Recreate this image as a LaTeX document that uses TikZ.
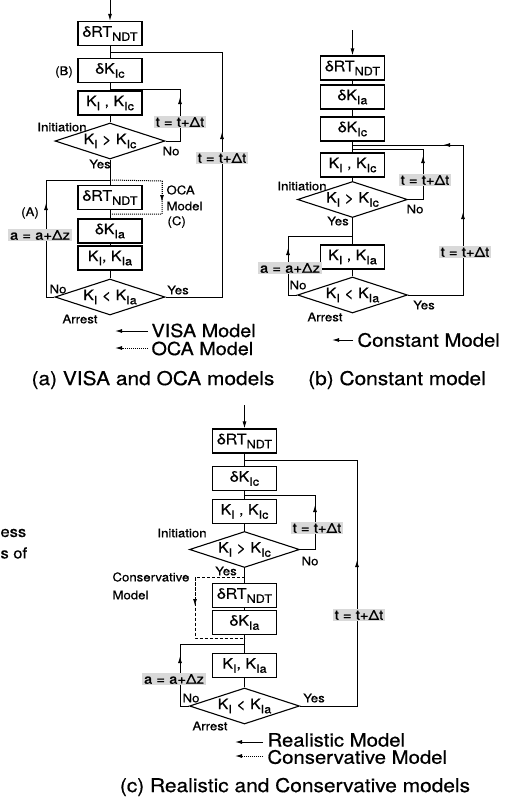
\documentclass[tikz,border=0pt]{standalone}
\usepackage{fontspec}
\setmainfont{TeX Gyre Heros}[FakeStretch=1.1,FakeBold=0.6]
\usetikzlibrary{shapes.geometric,arrows.meta}
\newcommand\sbs[1]{\raisebox{-0.28em}{\fontsize{11.5}{11.5}\selectfont #1}}
\newcommand\fs[1]{\fontsize{#1}{#1}\selectfont}
\begin{document}
\begin{tikzpicture}[x=1pt,y=-1pt, line width=1pt,
 box/.style={draw, line width=1.1pt, minimum width=64pt, minimum height=24pt, inner sep=0pt, font=\fs{14.5}},
 dia/.style={draw, line width=1.1pt, diamond, aspect=3, minimum width=110pt, minimum height=36pt, inner sep=0pt, font=\fs{14.5}},
 lbl/.style={inner sep=0pt, font=\fs{12}},
 eq/.style={fill=gray!30, inner sep=1.5pt, font=\fs{13.5}},
 leg/.style={inner sep=0pt, font=\fs{18}, anchor=west},
 captxt/.style={inner sep=0pt, font=\fs{19}},
 arr/.style={-{Latex[length=7pt,width=4pt]}},
 ]
\useasboundingbox (0,0) rectangle (523,804);
% ================= (a)
\coordinate (aIn) at (110,0);
\node[box] (aRT) at (110,33.5) {δRT\sbs{NDT}};
\node[box] (aKIc) at (110,70.5) {δK\sbs{Ic}};
\node[box] (aKK) at (110,103) {K\sbs{I} , K\sbs{Ic}};
\node[dia] (aD1) at (110,141) {K\sbs{I} > K\sbs{Ic}};
\node[box] (aRT2) at (110,197.5) {δRT\sbs{NDT}};
\node[box] (aKIa) at (110,231) {δK\sbs{Ia}};
\node[box] (aKKa) at (110,258) {K\sbs{I}, K\sbs{Ia}};
\node[dia] (aD2) at (110,297) {K\sbs{I} < K\sbs{Ia}};
\draw[arr] (aIn) -- (aRT.north);
\draw (aRT) -- (aKIc);
\draw (aKIc) -- (aKK);
\draw (aKK) -- (aD1);
\draw (aD1) -- (aRT2);
\draw (aRT2) -- (aKIa);
\draw (aKIa) -- (aKKa);
\draw (aKKa) -- (aD2);
\coordinate (aO1) at (222,297); \coordinate (aO2) at (222,52); \coordinate (aO3) at (110,52);
\draw (aD2.east) -- (aO1) -- (aO2) -- (aO3);
\draw[arr] (aO1) -- (222,132);
\coordinate (aI1) at (180,141); \coordinate (aI2) at (180,89); \coordinate (aI3) at (110,89);
\draw (aD1.east) -- (aI1) -- (aI2) -- (aI3);
\draw[arr] (aI1) -- (180,97);
\coordinate (aL1) at (46,297); \coordinate (aL2) at (46,180); \coordinate (aL3) at (110,180);
\draw (aD2.west) -- (aL1) -- (aL2) -- (aL3);
\draw[arr] (aL1) -- (46,203);
\coordinate (aC1) at (162,181); \coordinate (aC2) at (162,214); \coordinate (aC3) at (110,214);
\draw[densely dotted] (aL3) -- (aC1) -- (aC2) -- (aC3);
\draw[arr,densely dotted] (aC1) -- (162,202);
\node[eq] (aE1) at (222,158) {t = t+Δt};
\node[eq] (aE2) at (180,122) {t = t+Δt};
\node[eq] (aE3) at (40,235) {a = a+Δz};
\node[lbl] (aB) at (64,72) {(B)};
\node[lbl] (aA) at (30,213) {(A)};
\node[lbl,anchor=west] (aOCA) at (166,190) {OCA};
\node[lbl,anchor=west] (aMod) at (166,206) {Model};
\node[lbl,anchor=west] (aCc) at (167,222) {(C)};
\node[lbl] (aIni) at (62,127) {Initiation};
\node[lbl] (aNo1) at (171,151) {No};
\node[lbl] (aYes1) at (100,164) {Yes};
\node[lbl] (aNo2) at (58,289) {No};
\node[lbl] (aYes2) at (178,290) {Yes};
\node[lbl] (aArr) at (80,319) {Arrest};
\coordinate (aLg1) at (148,331); \coordinate (aLg2) at (115,331);
\draw[arr] (aLg1) -- (aLg2);
\node[leg] (aVISA) at (151,330.5) {VISA Model};
\coordinate (aLg3) at (148,348); \coordinate (aLg4) at (115,348);
\draw[arr,densely dotted] (aLg3) -- (aLg4);
\node[leg] (aOCAm) at (151,348.5) {OCA Model};
\node[captxt] (aCap) at (153,380) {(a) VISA and OCA models};
% ================= (b)
\coordinate (bIn) at (352.5,30);
\node[box] (bRT) at (352.5,68) {δRT\sbs{NDT}};
\node[box] (bKIa) at (352.5,97) {δK\sbs{Ia}};
\node[box] (bKIc) at (352.5,129) {δK\sbs{Ic}};
\node[box] (bKK) at (352.5,165) {K\sbs{I} , K\sbs{Ic}};
\node[dia] (bD1) at (352.5,199.5) {K\sbs{I} > K\sbs{Ic}};
\node[box] (bKKa) at (352.5,257) {K\sbs{I} , K\sbs{Ia}};
\node[dia] (bD2) at (352.5,295) {K\sbs{I} < K\sbs{Ia}};
\draw[arr] (bIn) -- (bRT.north);
\draw (bRT) -- (bKIa);
\draw (bKIa) -- (bKIc);
\draw (bKIc) -- (bKK);
\draw (bKK) -- (bD1);
\draw (bD1) -- (bKKa);
\draw (bKKa) -- (bD2);
\coordinate (bO1) at (463,295); \coordinate (bO2) at (463,145); \coordinate (bO3) at (352.5,145);
\draw (bD2.east) -- (bO1) -- (bO2) -- (bO3);
\draw[arr] (bO1) -- (463,212);
\draw[arr] (bO2) -- (443,145);
\coordinate (bI1) at (423,199.5); \coordinate (bI2) at (423,149); \coordinate (bI3) at (352.5,149);
\draw (bD1.east) -- (bI1) -- (bI2) -- (bI3);
\draw[arr] (bI1) -- (423,156);
\coordinate (bL1) at (288,295); \coordinate (bL2) at (288,236); \coordinate (bL3) at (352.5,236);
\draw (bD2.west) -- (bL1) -- (bL2) -- (bL3);
\draw[arr] (bL1) -- (288,248);
\node[eq] (bE1) at (465,252) {t = t+Δt};
\node[eq] (bE2) at (425,180) {t = t+Δt};
\node[eq] (bE3) at (290,268) {a = a+Δz};
\node[lbl] (bIni) at (302,186) {Initiation};
\node[lbl] (bNo1) at (415,209) {No};
\node[lbl] (bYes1) at (338,221) {Yes};
\node[lbl] (bNo2) at (298,285) {No};
\node[lbl] (bYes2) at (424,305) {Yes};
\node[lbl] (bArr) at (325,317) {Arrest};
\coordinate (bLg1) at (353,340); \coordinate (bLg2) at (332,340);
\draw[arr] (bLg1) -- (bLg2);
\node[leg,font=\fs{18.5}] (bConst) at (357,340) {Constant Model};
\node[captxt] (bCap) at (397,380) {(b) Constant model};
% ================= (c)
\coordinate (cIn) at (244.5,405);
\node[box] (cRT) at (244.5,441) {δRT\sbs{NDT}};
\node[box] (cKIc) at (244.5,478.5) {δK\sbs{Ic}};
\node[box] (cKK) at (244.5,511.5) {K\sbs{I} , K\sbs{Ic}};
\node[dia] (cD1) at (244.5,549.5) {K\sbs{I} > K\sbs{Ic}};
\node[box] (cRT2) at (244.5,595.5) {δRT\sbs{NDT}};
\node[box] (cKIa) at (244.5,622.5) {δK\sbs{Ia}};
\node[box] (cKKa) at (244.5,665.5) {K\sbs{I}, K\sbs{Ia}};
\node[dia] (cD2) at (244.5,706) {K\sbs{I} < K\sbs{Ia}};
\draw[arr] (cIn) -- (cRT.north);
\draw (cRT) -- (cKIc);
\draw (cKIc) -- (cKK);
\draw (cKK) -- (cD1);
\draw (cD1) -- (cRT2);
\draw (cRT2) -- (cKIa);
\draw (cKIa) -- (cKKa);
\draw (cKKa) -- (cD2);
\coordinate (cO1) at (357,706); \coordinate (cO2) at (357,460); \coordinate (cO3) at (244.5,460);
\draw (cD2.east) -- (cO1) -- (cO2) -- (cO3);
\draw[arr] (cO1) -- (357,560);
\coordinate (cI1) at (315,549.5); \coordinate (cI2) at (315,495); \coordinate (cI3) at (244.5,495);
\draw (cD1.east) -- (cI1) -- (cI2) -- (cI3);
\draw[arr] (cI1) -- (315,505);
\coordinate (cL1) at (180,706); \coordinate (cL2) at (180,644); \coordinate (cL3) at (244.5,644);
\draw (cD2.west) -- (cL1) -- (cL2) -- (cL3);
\draw[arr] (cL1) -- (180,656);
\coordinate (cC0) at (244.5,577); \coordinate (cC1) at (195,577); \coordinate (cC2) at (195,638); \coordinate (cC3) at (244.5,638);
\draw[densely dashed] (cC0) -- (cC1) -- (cC2) -- (cC3);
\draw[arr,densely dashed] (cC1) -- (195,606);
\node[eq] (cE1) at (359,615) {t = t+Δt};
\node[eq] (cE2) at (317,528) {t = t+Δt};
\node[eq] (cE3) at (174,679) {a = a+Δz};
\node[lbl] (cIni) at (182,533) {Initiation};
\node[lbl] (cNo1) at (310,561) {No};
\node[lbl] (cYes1) at (226,571) {Yes};
\node[lbl,anchor=west] (cCons) at (112,577) {Conservative};
\node[lbl,anchor=west] (cMod) at (112,595) {Model};
\node[lbl] (cNo2) at (191,698) {No};
\node[lbl] (cYes2) at (314,698) {Yes};
\node[lbl] (cArr) at (210,726) {Arrest};
\coordinate (cLg1) at (263,742); \coordinate (cLg2) at (235,742);
\draw[arr] (cLg1) -- (cLg2);
\node[leg,font=\fs{18.5}] (cReal) at (267,740) {Realistic Model};
\coordinate (cLg3) at (263,756); \coordinate (cLg4) at (235,756);
\draw[arr,densely dotted] (cLg3) -- (cLg4);
\node[leg,font=\fs{18.5}] (cConsM) at (267,757) {Conservative Model};
\node[captxt] (cCap) at (295,787) {(c) Realistic and Conservative models};
% ================= fragments at left
\node[inner sep=0pt, anchor=west, font=\fs{15}] (fr1) at (0,533) {ess};
\node[inner sep=0pt, anchor=west, font=\fs{15}] (fr2) at (0,553) {s of};
\end{tikzpicture}
\end{document}
